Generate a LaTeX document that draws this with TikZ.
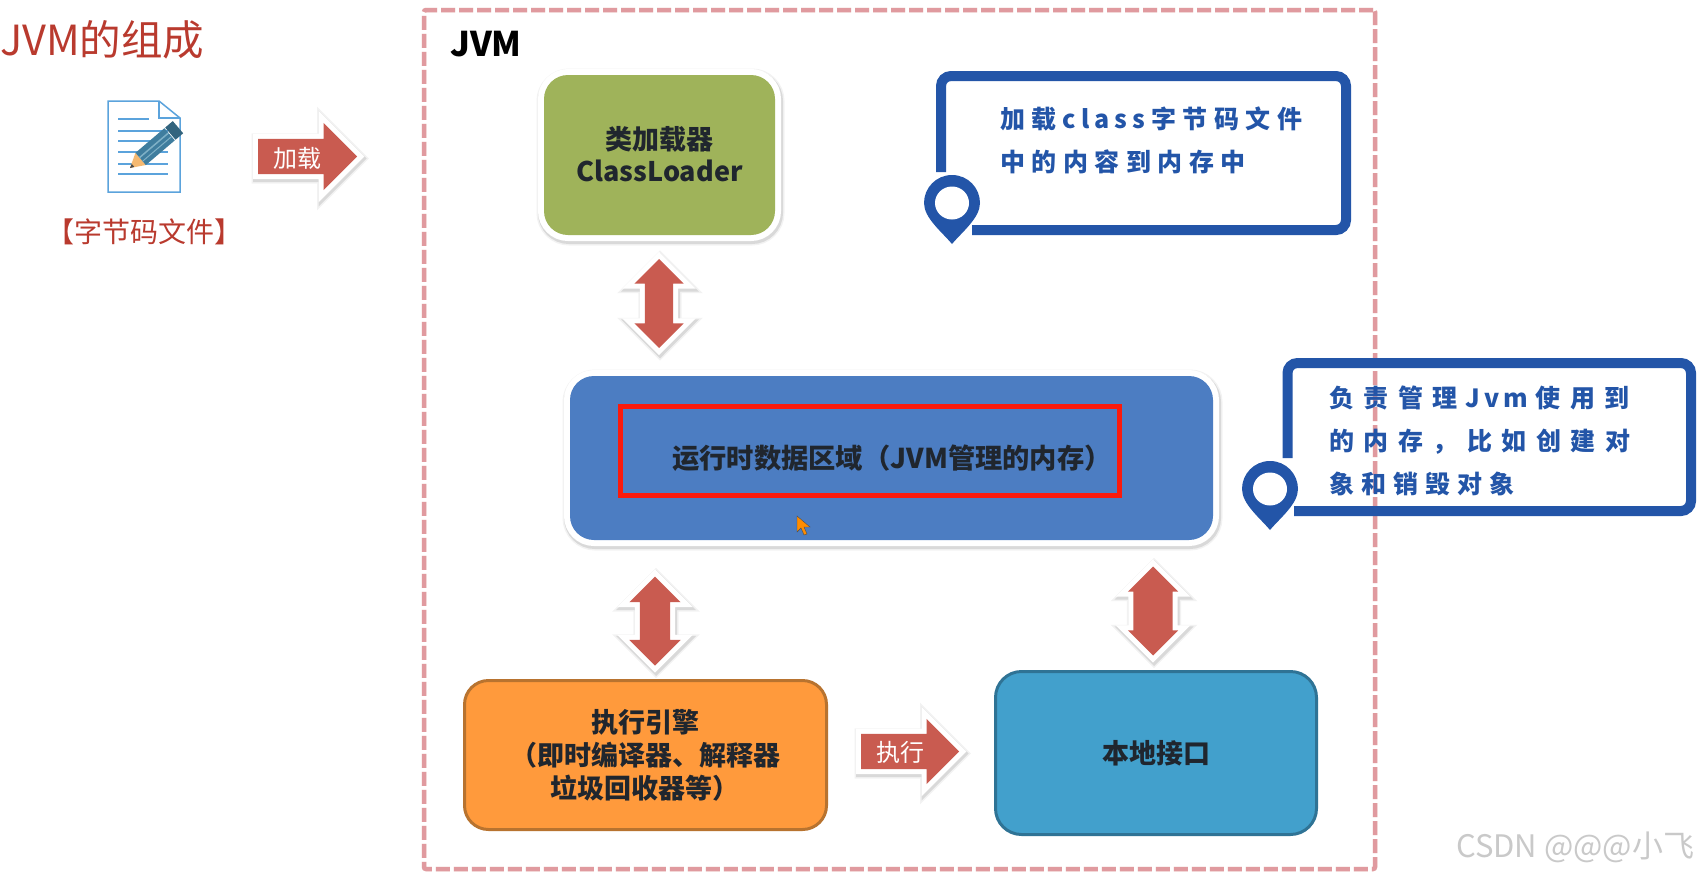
\documentclass[tikz,border=0pt]{standalone}
\usepackage{fontspec}
\setmainfont{Noto Sans CJK SC}
\usepackage{xcolor}
\usepackage{tikz}
\usetikzlibrary{calc, positioning, shapes.arrows}
\definecolor{FrameRed}{HTML}{E09A9F}
\definecolor{FrameGap}{HTML}{FBF0E6}
\definecolor{TitleRed}{HTML}{B93A2E}
\definecolor{ArrowRed}{HTML}{C95B50}
\definecolor{LoaderGreen}{HTML}{9FB35A}
\definecolor{RuntimeBlue}{HTML}{4C7DC2}
\definecolor{MarkRed}{HTML}{FA1A0C}
\definecolor{EngineOrange}{HTML}{FF9A3C}
\definecolor{EngineEdge}{HTML}{B8732F}
\definecolor{NativeBlue}{HTML}{42A0CC}
\definecolor{NativeEdge}{HTML}{2F7395}
\definecolor{NoteBlue}{HTML}{2355A8}
\definecolor{TextDark}{HTML}{20262E}
\definecolor{FileBlue}{HTML}{5BA3DC}
\definecolor{PencilBlue}{HTML}{3F7D9E}
\definecolor{PencilLight}{HTML}{7FB0C6}
\definecolor{PencilTip}{HTML}{F5B971}
\definecolor{MarkGray}{HTML}{C9C9C9}

\newcommand\size[2]{\fontsize{#1}{#2}\selectfont}

\tikzset{
    halo/.style = {
        line join = miter,
        preaction = {draw = black, draw opacity = 0.05, line width = #1+5pt, transform canvas = {shift = {(1, 2)}}},
        preaction = {draw = black, draw opacity = 0.10, line width = #1+2pt, transform canvas = {shift = {(1, 2)}}},
        preaction = {draw = white, line width = #1}
    },
    card/.style = {rectangle, rounded corners = 24pt, inner sep = 0pt, align = center, text = TextDark, font = \size{27}{33}\bfseries},
    pushsign/.style = {shape = single arrow, fill = ArrowRed, inner sep = 0pt, anchor = tail, minimum height = 99pt, single arrow head extend = 16pt, halo = 10pt},
    bothsign/.style = {shape = double arrow, fill = ArrowRed, inner sep = 0pt, rotate = 90, minimum height = 89pt, halo = 10pt},
    signtext/.style = {text = white, inner sep = 0pt, font = \size{24}{28}},
    noteline/.style = {draw = NoteBlue, line width = 10pt, rounded corners = 10pt},
    notetext/.style = {anchor = west, inner sep = 0pt, align = left, text = NoteBlue, font = \size{25}{43}\bfseries},
    fileline/.style = {draw = FileBlue, line width = 1.5pt}
}

% a pin that stands on the corner of a note, given by the middle of its hole
\newcommand\notepin[1]{
    \begin{scope}[shift = {#1}]
        \fill[NoteBlue] (0, -28) .. controls (16, -28) and (28, -15) .. (28, 0) .. controls (28, 15) and (10, 29) .. (0, 41) .. controls (-10, 29) and (-28, 15) .. (-28, 0) .. controls (-28, -15) and (-16, -28) .. (0, -28) -- cycle;
        \fill[white] (0, 0) ellipse (17 and 16.5);
    \end{scope}
}

\begin{document}
\begin{tikzpicture}[x = 1pt, y = -1pt]
    \useasboundingbox (0, 0) rectangle (1703, 876);
    \fill[white] (0, 0) rectangle (1703, 876);

    \node[anchor = west, inner sep = 0pt, text = TitleRed, font = \size{41.5}{46}] (title) at (0, 40) {JVM的组成};

    % the file and its pencil
    \path[fileline, fill = white] (108, 101) -- (159, 101) -- (180, 118) -- (180, 192) -- (108, 192) -- cycle;
    \path[fileline] (159, 101) -- (159, 118) -- (180, 118);
    \path[fileline] (118, 119) -- (149, 119);
    \foreach \liney in {131, 141, 152, 164, 174}
        \path[fileline] (118, \liney) -- (168, \liney);
    \begin{scope}[shift = {(130, 168)}, rotate = 40.4]
        \fill[PencilTip] (0, 0) -- (14, -8) -- (14, 8) -- cycle;
        \fill[black!70] (0, 0) -- (4, -2) -- (4, 2) -- cycle;
        \fill[PencilBlue] (14, -8) rectangle (52, 8);
        \fill[PencilLight] (14, -2.5) rectangle (52, -1);
        \fill[PencilLight] (14, 2.5) rectangle (52, 3.5);
        \fill[PencilBlue!80!black] (53, -8) rectangle (63, 8);
    \end{scope}
    \node[inner sep = 0pt, text = TitleRed, font = \size{28}{32}] (filename) at (144.5, 232) {【字节码文件】};

    \node[pushsign] (loadsign) at (258, 156.5) {\rule{0pt}{35pt}};
    \node[signtext] (loadtext) at (297, 158) {加载};

    \node[rectangle, rounded corners = 2pt, minimum width = 951pt, minimum height = 859pt, inner sep = 0pt,
          preaction = {draw = FrameGap, line width = 4.5pt},
          draw = FrameRed, line width = 4.5pt, dash pattern = on 14pt off 4pt] (jvmframe) at (899.5, 439.5) {};
    \node[anchor = west, inner sep = 0pt, text = black, font = \size{34}{40}\bfseries] (jvmname) at (450, 44) {JVM};

    \node[card, fill = LoaderGreen, halo = 12pt, minimum width = 231pt, minimum height = 160pt] (loader) at (659.5, 155) {};
    \node[inner sep = 0pt, align = center, text = TextDark, font = \size{27}{32}\bfseries] (loadername) at (659.5, 154) {类加载器\\ClassLoader};

    \node[card, fill = RuntimeBlue, halo = 12pt, minimum width = 643pt, minimum height = 164pt] (runtime) at (891.5, 458) {};
    \node[rectangle, draw = MarkRed, line width = 5pt, minimum width = 499pt, minimum height = 89pt, inner sep = 0pt] (runtimemark) at (870, 451) {};
    \node[inner sep = 0pt, text = TextDark, font = \size{27.3}{33}\bfseries] (runtimename) at (892, 458) {运行时数据区域（JVM管理的内存）};
    \path[fill = orange!90!yellow, draw = black!70, line width = 0.4pt] (797, 516) -- (797, 532) -- (801, 528) -- (804, 535) -- (807, 534) -- (804, 527) -- (810, 527) -- cycle;

    \node[card, fill = EngineOrange, draw = EngineEdge, line width = 3pt, minimum width = 362pt, minimum height = 149pt] (engine) at (645.5, 755) {};
    \node[inner sep = 0pt, align = center, text = TextDark, font = \size{27}{33}\bfseries] (enginename) at (645, 755) {执行引擎\\（即时编译器、解释器\\垃圾回收器等）};

    \node[card, rounded corners = 26pt, fill = NativeBlue, draw = NativeEdge, line width = 3pt, minimum width = 321pt, minimum height = 163pt] (native) at (1156, 753) {本地接口};

    \node[bothsign, double arrow head extend = 10.5pt] (loadrun) at (659, 303.5) {\rule{0pt}{28pt}};
    \node[bothsign, double arrow head extend = 10.5pt] (runengine) at (655, 621) {\rule{0pt}{30pt}};
    \node[bothsign, double arrow head extend = 5.5pt] (runnative) at (1153, 611) {\rule{0pt}{39pt}};

    \node[pushsign, minimum height = 98pt, single arrow head extend = 15pt] (execsign) at (861, 751.5) {\rule{0pt}{35pt}};
    \node[signtext] (exectext) at (900, 752) {执行};

    % the two notes are left open where their pins stand
    \draw[noteline] (941, 172) -- (941, 76) -- (1346, 76) -- (1346, 230) -- (972, 230);
    \notepin{(952, 203)}
    \node[notetext] (loadnote) at (1000, 140.5) {\addfontfeature{LetterSpace = 26}加载\hspace{6pt}{\addfontfeature{LetterSpace = 20}class}\hspace{6pt}字节码文件\\\addfontfeature{LetterSpace = 26}中的内容到内存中};

    \draw[noteline] (1287.5, 458) -- (1287.5, 363) -- (1691, 363) -- (1691, 511) -- (1294, 511);
    \notepin{(1270, 489)}
    \node[notetext] (runnote) at (1329, 441) {\addfontfeature{LetterSpace = 38}负责管理\hspace{8pt}{\addfontfeature{LetterSpace = 15}Jvm}\hspace{8pt}使用到\\\addfontfeature{LetterSpace = 38}的内存，比如创建对\\\addfontfeature{LetterSpace = 28}象和销毁对象};

    \node[inner sep = 0pt, anchor = west, text = MarkGray, font = \size{31}{36}] (watermark) at (1456, 847) {CSDN @@@小飞};
\end{tikzpicture}
\end{document}
